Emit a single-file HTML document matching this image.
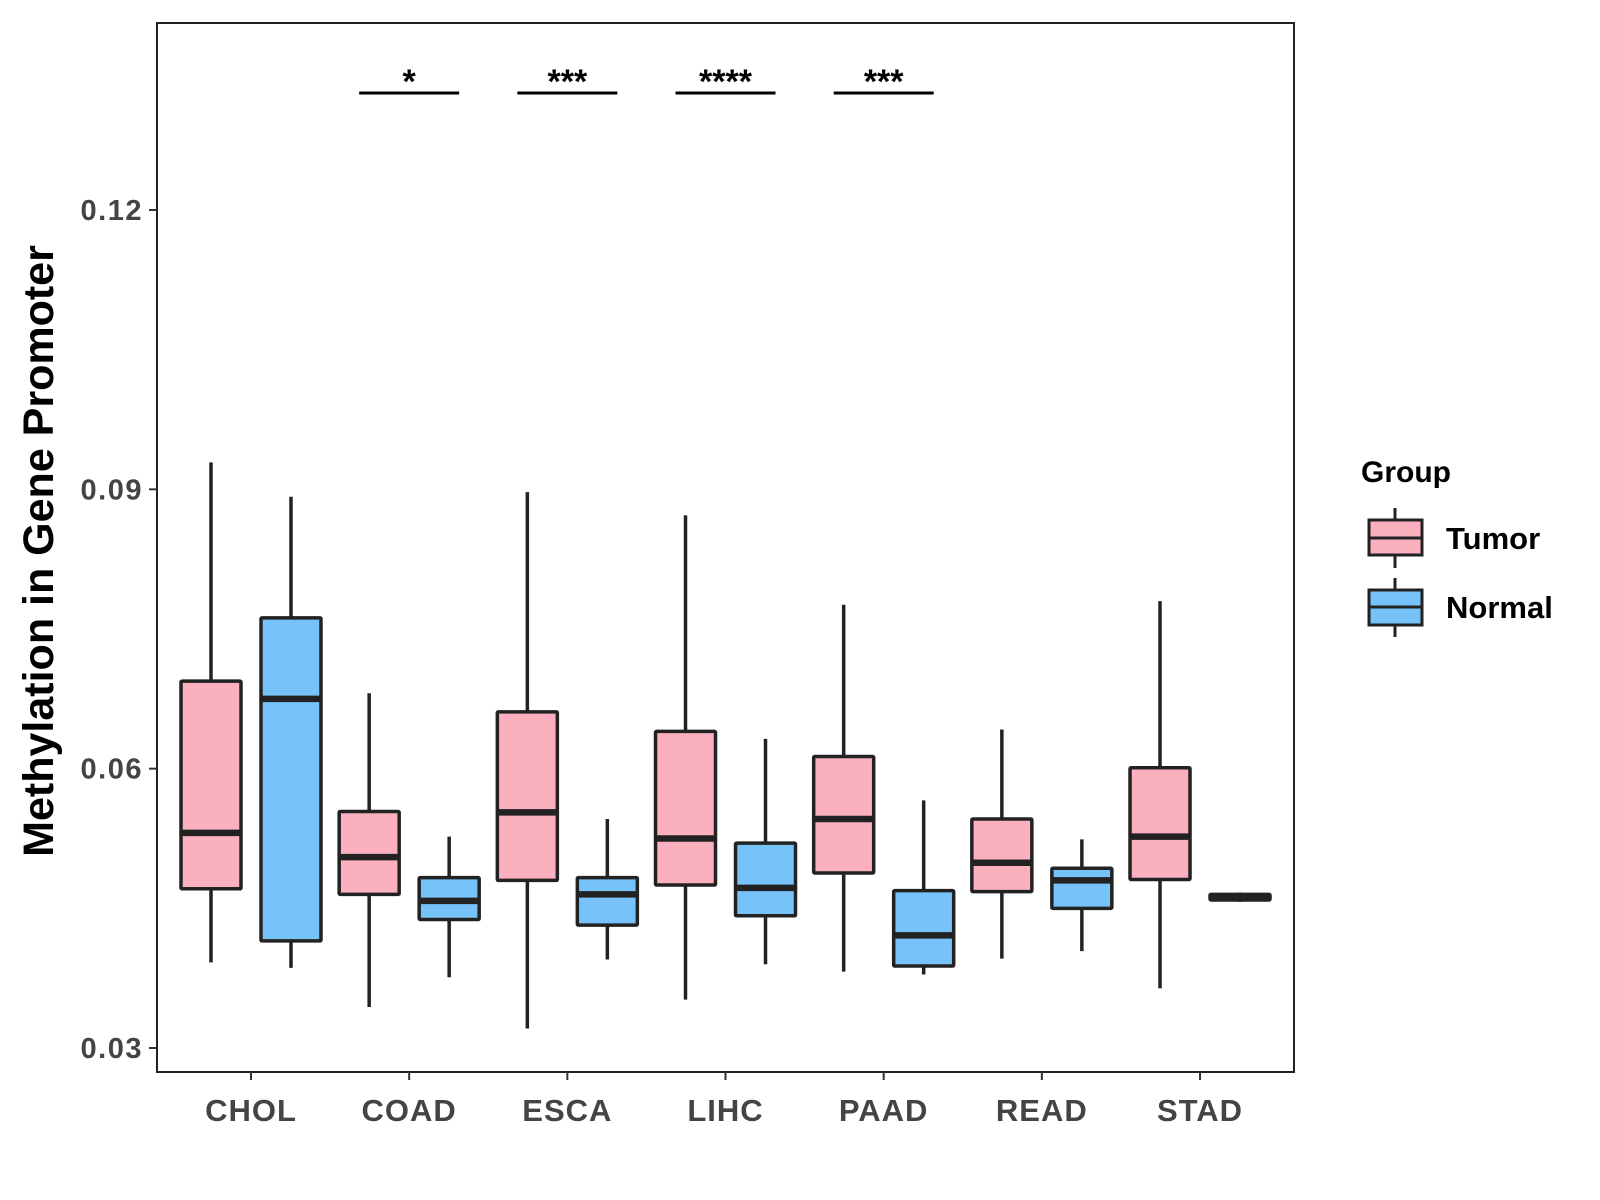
<!DOCTYPE html>
<html><head><meta charset="utf-8"><style>
body{margin:0;background:#fff}
svg{display:block;font-family:"Liberation Sans",Arial,sans-serif;font-weight:bold}
</style></head><body>
<svg id="chart" width="1600" height="1200" viewBox="0 0 1600 1200">
<rect x="157" y="23" width="1137" height="1049" fill="#fff" stroke="#222" stroke-width="2"/>
<g id="marks"></g>
<text transform="translate(53,551) rotate(-90)" text-anchor="middle" font-size="43" fill="#000">Methylation in Gene Promoter</text>
<g transform="translate(-7,-2)">
<text x="1368" y="484" font-size="30" fill="#000">Group</text>
<g>
<line x1="1402" y1="510" x2="1402" y2="570" stroke="#222" stroke-width="3"/>
<rect x="1376" y="522" width="53" height="35" fill="#FBB0C0" stroke="#222" stroke-width="3"/>
<line x1="1376" y1="540" x2="1429" y2="540" stroke="#222" stroke-width="3"/>
<text x="1453" y="551" font-size="31" fill="#000">Tumor</text></g>
<g>
<line x1="1402" y1="580" x2="1402" y2="639" stroke="#222" stroke-width="3"/>
<rect x="1376" y="592" width="53" height="35" fill="#77C2F8" stroke="#222" stroke-width="3"/>
<line x1="1376" y1="609" x2="1429" y2="609" stroke="#222" stroke-width="3"/>
<text x="1453" y="620" font-size="31" fill="#000">Normal</text></g>
</g>
</svg>
<script>
const categories=["CHOL","COAD","ESCA","LIHC","PAAD","READ","STAD"];
const tumorStats=[[0.0392,0.0471,0.0531,0.0694,0.0929],[0.0344,0.0465,0.0505,0.0554,0.0681],[0.0321,0.0480,0.0553,0.0661,0.0897],[0.0352,0.0475,0.0525,0.0640,0.0872],[0.0382,0.0488,0.0546,0.0613,0.0776],[0.0396,0.0468,0.0499,0.0546,0.0642],[0.0364,0.0481,0.0527,0.0601,0.0780]];
const normalStats=[[0.0386,0.0415,0.0675,0.0762,0.0892],[0.0376,0.0438,0.0458,0.0483,0.0527],[0.0395,0.0432,0.0465,0.0483,0.0546],[0.0390,0.0442,0.0472,0.0520,0.0632],[0.0379,0.0388,0.0421,0.0469,0.0566],[0.0404,0.0450,0.0480,0.0493,0.0524],[0.0457,0.0459,0.0462,0.0465,0.0467]];
const yTicks=[0.03,0.06,0.09,0.12];
const yTickLabels=["0.03","0.06","0.09","0.12"];
const sigCategories=["COAD","ESCA","LIHC","PAAD"];
const sigLabels=["*","***","****","***"];
const NS="http://www.w3.org/2000/svg";
const g=document.getElementById('marks');
function yS(v){return 210+(0.12-v)/0.09*838;}
function xS(i){return 251+i*158.17;}
function mk(tag,attrs,parent){const e=document.createElementNS(NS,tag);for(const k in attrs)e.setAttribute(k,attrs[k]);(parent||g).appendChild(e);return e;}
yTicks.forEach((t,i)=>{
  const l=mk('line',{x1:149,x2:157,y1:yS(t),y2:yS(t),stroke:'#333','stroke-width':2});
  
  
  const tx=mk('text',{x:143,y:yS(t)+10,'text-anchor':'end','font-size':29,'letter-spacing':1.5,fill:'#444'});
  tx.textContent=yTickLabels[i];
  
  
});
categories.forEach((c,i)=>{
  const x=xS(i);
  const l=mk('line',{x1:x,x2:x,y1:1072,y2:1080,stroke:'#333','stroke-width':2});
  
  
  const tx=mk('text',{x:x,y:1121,'text-anchor':'middle','font-size':31,'letter-spacing':1,fill:'#444'});
  tx.textContent=c;
  
  
  [[tumorStats[i],-40,'#FBB0C0','tumor'],[normalStats[i],40,'#77C2F8','normal']].forEach(([s,off,col,nm])=>{
    const cx=x+off;
    const bg=mk('g',{});
    
    
    mk('line',{x1:cx,x2:cx,y1:yS(s[0]),y2:yS(s[4]),stroke:'#222','stroke-width':3.5},bg);
    mk('rect',{x:cx-30,y:yS(s[3]),width:60,height:Math.max(yS(s[1])-yS(s[3]),1),fill:col,stroke:'#222','stroke-width':3.5,rx:1},bg);
    mk('line',{x1:cx-30,x2:cx+30,y1:yS(s[2]),y2:yS(s[2]),stroke:'#222','stroke-width':6.5},bg);
  });
});
sigCategories.forEach((c,k)=>{
  const x=xS(categories.indexOf(c));
  const l=mk('line',{x1:x-50,x2:x+50,y1:93,y2:93,stroke:'#000','stroke-width':3});
  
  
  const tx=mk('text',{x:x,y:93,'text-anchor':'middle','font-size':34,fill:'#000'});
  tx.textContent=sigLabels[k];
  
  
});
</script>
</body></html>
